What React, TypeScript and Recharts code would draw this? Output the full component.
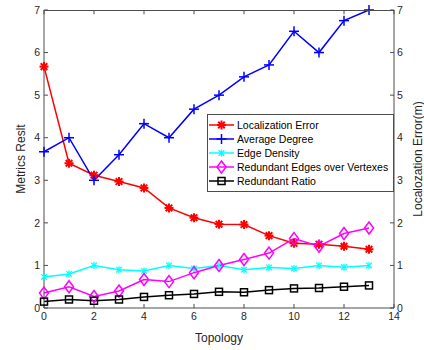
import { LineChart, Line, XAxis, YAxis, Legend, ReferenceLine } from "recharts";

const topology = [0, 1, 2, 3, 4, 5, 6, 7, 8, 9, 10, 11, 12, 13];
const localizationError = [5.67, 3.4, 3.12, 2.97, 2.82, 2.35, 2.12, 1.97, 1.96, 1.7, 1.52, 1.5, 1.45, 1.38];
const averageDegree = [3.67, 4.0, 3.0, 3.6, 4.33, 4.0, 4.67, 5.0, 5.43, 5.71, 6.5, 6.0, 6.75, 7.0];
const edgeDensity = [0.73, 0.8, 1.0, 0.9, 0.87, 1.0, 0.93, 1.0, 0.9, 0.95, 0.93, 1.0, 0.96, 1.0];
const redundantEdges = [0.35, 0.5, 0.27, 0.4, 0.67, 0.62, 0.83, 1.0, 1.14, 1.29, 1.63, 1.45, 1.75, 1.88];
const redundantRatio = [0.15, 0.2, 0.17, 0.2, 0.26, 0.3, 0.33, 0.38, 0.37, 0.42, 0.46, 0.47, 0.5, 0.53];

const xTicks = [0, 2, 4, 6, 8, 10, 12, 14];
const yTicks = [0, 1, 2, 3, 4, 5, 6, 7];

const data = topology.map((t, i) => ({
  topology: t,
  locErr: localizationError[i],
  avgDeg: averageDegree[i],
  edgeDen: edgeDensity[i],
  redEdges: redundantEdges[i],
  redRatio: redundantRatio[i],
}));

const AXIS = "#4d4d4d";
const TEXT = "#262626";
const FONT = "'Liberation Sans', Arial, sans-serif";

type Shape = "star" | "plus" | "aster" | "diamond" | "square";

function Marker({ cx, cy, shape, color }: { cx: number; cy: number; shape: Shape; color: string }) {
  if (cx == null || cy == null) return null;
  if (shape === "star") {
    const r = 4.5, d = 3.3;
    return (
      <g stroke={color} strokeWidth={2}>
        <line x1={cx - r} y1={cy} x2={cx + r} y2={cy} />
        <line x1={cx} y1={cy - r} x2={cx} y2={cy + r} />
        <line x1={cx - d} y1={cy - d} x2={cx + d} y2={cy + d} />
        <line x1={cx - d} y1={cy + d} x2={cx + d} y2={cy - d} />
      </g>
    );
  }
  if (shape === "plus") {
    const r = 5;
    return (
      <g stroke={color} strokeWidth={1.5}>
        <line x1={cx - r} y1={cy} x2={cx + r} y2={cy} />
        <line x1={cx} y1={cy - r} x2={cx} y2={cy + r} />
      </g>
    );
  }
  if (shape === "aster") {
    const r = 3.5, d = 2.8;
    return (
      <g stroke={color} strokeWidth={1.3}>
        <line x1={cx} y1={cy - r} x2={cx} y2={cy + r} />
        <line x1={cx - d} y1={cy - d} x2={cx + d} y2={cy + d} />
        <line x1={cx - d} y1={cy + d} x2={cx + d} y2={cy - d} />
      </g>
    );
  }
  if (shape === "diamond") {
    return (
      <polygon
        points={`${cx},${cy - 6} ${cx + 4.5},${cy} ${cx},${cy + 6} ${cx - 4.5},${cy}`}
        fill="none"
        stroke={color}
        strokeWidth={1.5}
      />
    );
  }
  return <rect x={cx - 3.5} y={cy - 3.5} width={7} height={7} fill="none" stroke={color} strokeWidth={1.5} />;
}

const series: { key: string; name: string; color: string; shape: Shape; yAxis: string }[] = [
  { key: "locErr", name: "Localization Error", color: "#ff0000", shape: "star", yAxis: "right" },
  { key: "avgDeg", name: "Average Degree", color: "#0000ff", shape: "plus", yAxis: "left" },
  { key: "edgeDen", name: "Edge Density", color: "#00ffff", shape: "aster", yAxis: "left" },
  { key: "redEdges", name: "Redundant Edges over Vertexes", color: "#ff00ff", shape: "diamond", yAxis: "left" },
  { key: "redRatio", name: "Redundant Ratio", color: "#000000", shape: "square", yAxis: "left" },
];

function LegendBox() {
  return (
    <div
      style={{
        border: `1px solid ${AXIS}`,
        background: "#fff",
        width: 185,
        padding: "3px 0 3px 0",
        fontFamily: FONT,
        fontSize: 10.5,
        color: "#000",
        boxSizing: "content-box",
      }}
    >
      {series.map((s) => (
        <div key={s.key} style={{ display: "flex", alignItems: "center", height: 14 }}>
          <svg width={28} height={14} style={{ display: "block" }}>
            <line x1={1} y1={7} x2={26} y2={7} stroke={s.color} strokeWidth={1.5} />
            <Marker cx={13.5} cy={7} shape={s.shape} color={s.color} />
          </svg>
          <span style={{ marginLeft: 1, whiteSpace: "nowrap" }}>{s.name}</span>
        </div>
      ))}
    </div>
  );
}

export default function App() {
  const tickStyle = { fill: TEXT, fontSize: 10.5, fontFamily: FONT };
  const yMax = yTicks[yTicks.length - 1];
  return (
    <div style={{ position: "absolute", left: 0, top: 0, width: 424, height: 350, background: "#fff" }}>
      <LineChart width={424} height={350} data={data} margin={{ top: 10, right: 0, bottom: 12, left: 14 }}>
        <XAxis
          xAxisId="bottom"
          dataKey="topology"
          type="number"
          domain={[0, 14]}
          ticks={xTicks}
          height={30}
          stroke={AXIS}
          tickSize={-4}
          tickMargin={9}
          tick={tickStyle}
          label={{
            value: "Topology",
            position: "insideBottom",
            offset: -4,
            style: { fill: TEXT, fontSize: 12, fontFamily: FONT },
          }}
        />
        <YAxis
          yAxisId="left"
          domain={[0, 7]}
          ticks={yTicks}
          width={30}
          stroke={AXIS}
          tickSize={-4}
          tickMargin={8}
          tick={tickStyle}
          label={{
            value: "Metrics Reslt",
            angle: -90,
            position: "insideLeft",
            offset: 7,
            style: { textAnchor: "middle", fill: TEXT, fontSize: 12, fontFamily: FONT },
          }}
        />
        <YAxis
          yAxisId="right"
          orientation="right"
          domain={[0, 7]}
          ticks={yTicks}
          width={30}
          stroke={AXIS}
          tickSize={-4}
          tickMargin={7}
          tick={tickStyle}
          label={{
            value: "Localozation Error(m)",
            angle: -90,
            position: "insideRight",
            offset: 6,
            style: { textAnchor: "middle", fill: TEXT, fontSize: 12, fontFamily: FONT },
          }}
        />
        {xTicks.map((t) => (
          <ReferenceLine
            key={`tt-${t}`}
            xAxisId="bottom"
            yAxisId="left"
            segment={[
              { x: t, y: yMax },
              { x: t, y: yMax - 0.1 },
            ]}
            stroke={AXIS}
            strokeWidth={1}
            ifOverflow="visible"
          />
        ))}
        {series.map((s) => (
          <Line
            key={s.key}
            xAxisId="bottom"
            yAxisId={s.yAxis}
            dataKey={s.key}
            name={s.name}
            type="linear"
            stroke={s.color}
            strokeWidth={1.5}
            isAnimationActive={false}
            dot={(p: any) => <Marker key={`${s.key}-${p.index}`} cx={p.cx} cy={p.cy} shape={s.shape} color={s.color} />}
            activeDot={false}
          />
        ))}
        <Legend
          layout="vertical"
          align="center"
          verticalAlign="middle"
          wrapperStyle={{ position: "absolute", left: 207, top: 114, width: "auto" }}
          content={() => <LegendBox />}
        />
      </LineChart>
      {/* top edge of the axes box */}
      <div
        style={{
          position: "absolute",
          left: 44,
          top: 10,
          width: 350,
          height: 0,
          borderTop: `1px solid ${AXIS}`,
          zIndex: 5,
          pointerEvents: "none",
        }}
      />
    </div>
  );
}
